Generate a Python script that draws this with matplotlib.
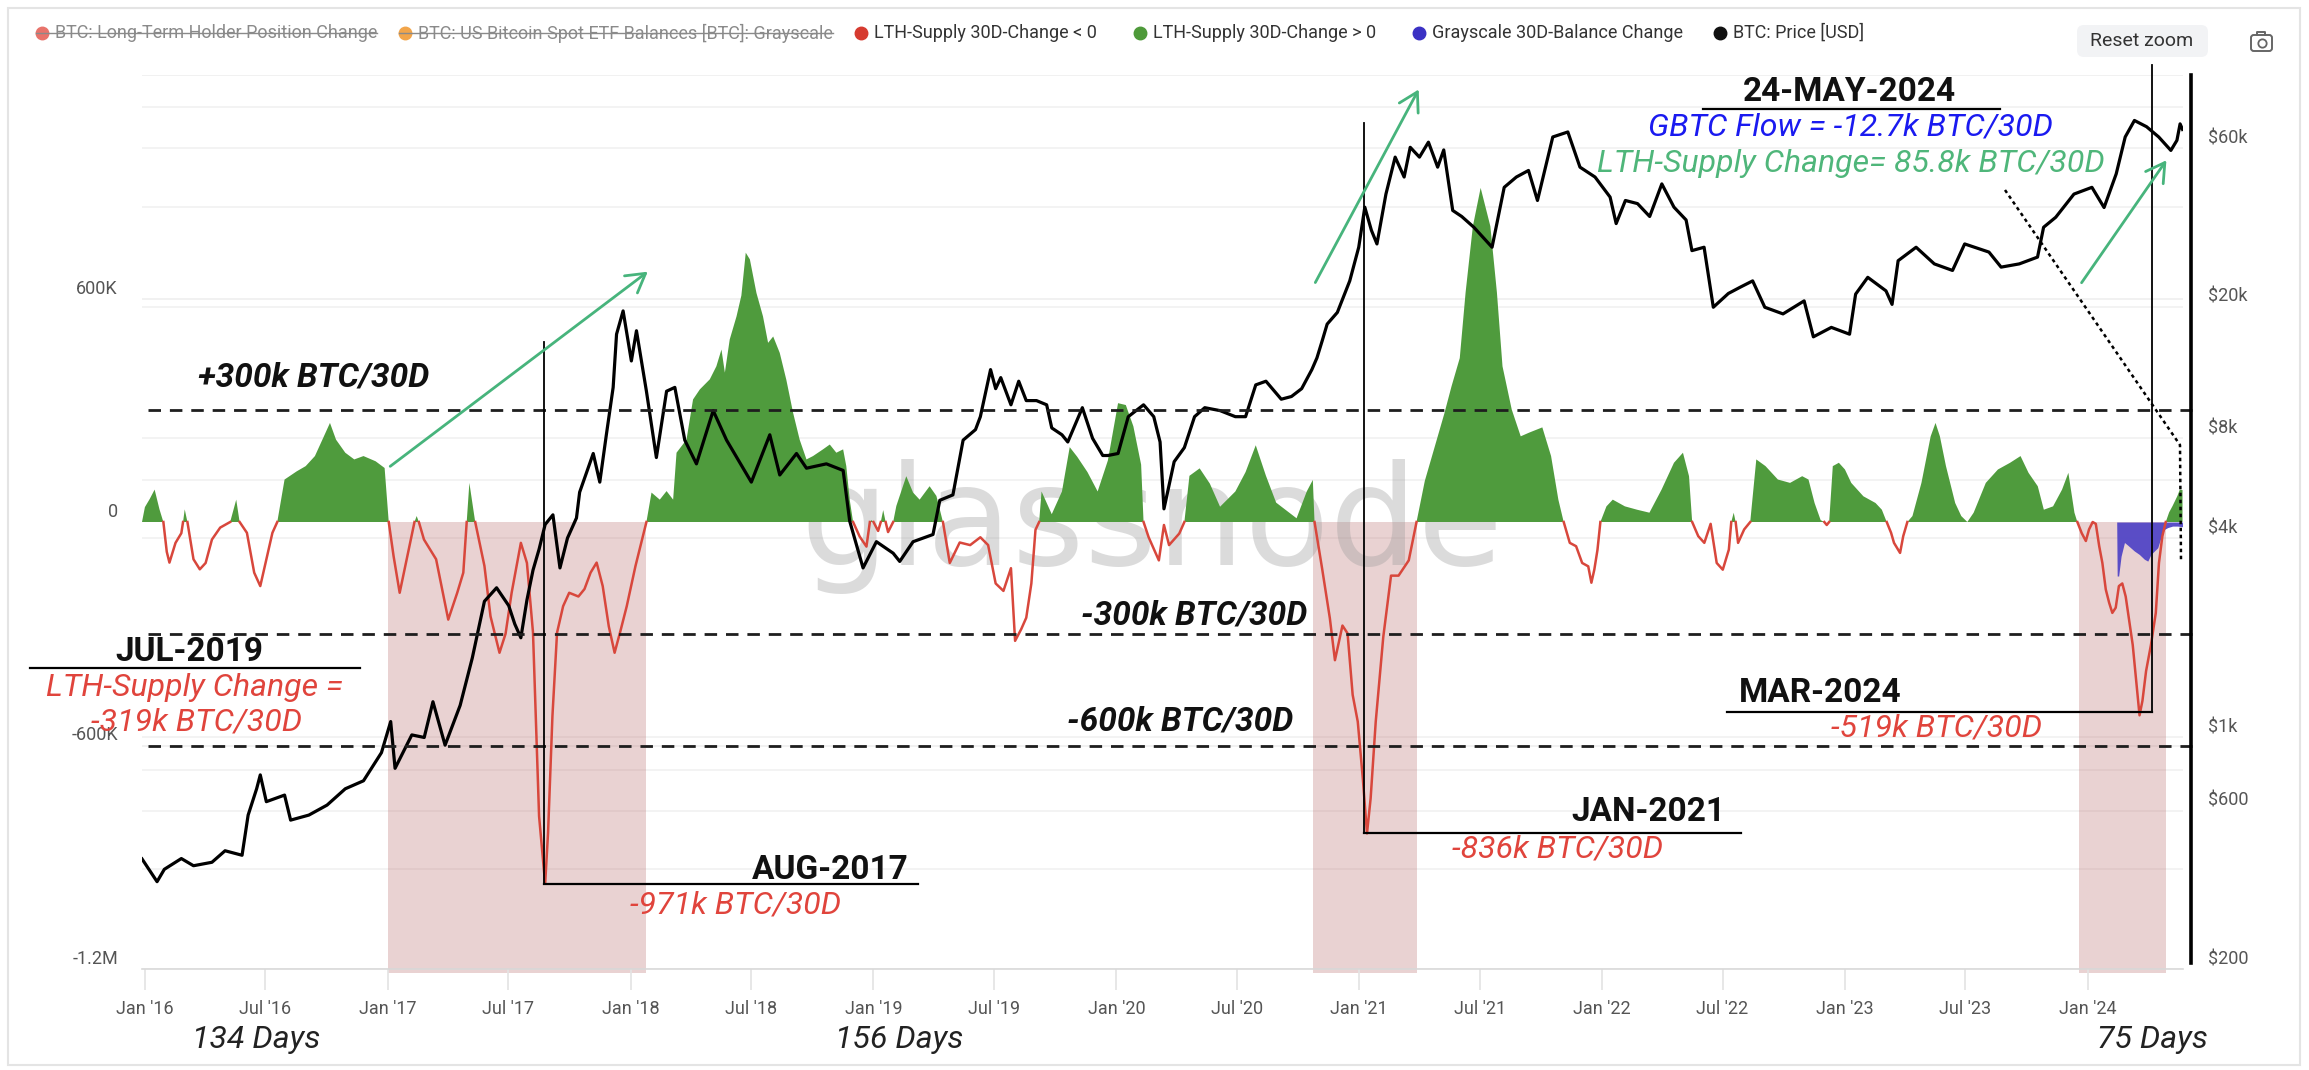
import numpy as np
import matplotlib
matplotlib.use("Agg")
import matplotlib.pyplot as plt
import matplotlib.transforms as mtransforms
from matplotlib.lines import Line2D
from matplotlib.patches import FancyBboxPatch, FancyArrowPatch, Rectangle

plt.rcParams['font.family'] = ['Roboto', 'DejaVu Sans']

# ---------------------------------------------------------------- data
# LTH supply 30-day change (thousand BTC), dates as decimal years
lth_dates = [
    2015.988, 2016.000, 2016.020, 2016.040, 2016.060, 2016.076, 2016.090, 2016.101, 2016.126, 2016.150,
    2016.157, 2016.164, 2016.175, 2016.200, 2016.226, 2016.250, 2016.276, 2016.310, 2016.351, 2016.376,
    2016.390, 2016.420, 2016.450, 2016.475, 2016.500, 2016.525, 2016.545, 2016.575, 2016.625, 2016.662,
    2016.700, 2016.737, 2016.762, 2016.787, 2016.825, 2016.862, 2016.900, 2016.950, 2016.987, 2017.004,
    2017.024, 2017.049, 2017.086, 2017.110, 2017.119, 2017.128, 2017.149, 2017.199, 2017.249, 2017.286,
    2017.311, 2017.325, 2017.336, 2017.360, 2017.398, 2017.423, 2017.460, 2017.485, 2017.510, 2017.548,
    2017.573, 2017.598, 2017.623, 2017.648, 2017.660, 2017.678, 2017.697, 2017.722, 2017.747, 2017.785,
    2017.810, 2017.835, 2017.860, 2017.885, 2017.910, 2017.934, 2017.959, 2017.984, 2018.020, 2018.047,
    2018.065, 2018.086, 2018.120, 2018.148, 2018.175, 2018.189, 2018.230, 2018.257, 2018.285, 2018.326,
    2018.353, 2018.374, 2018.388, 2018.408, 2018.436, 2018.456, 2018.474, 2018.491, 2018.518, 2018.545,
    2018.566, 2018.587, 2018.614, 2018.641, 2018.669, 2018.696, 2018.724, 2018.751, 2018.792, 2018.820,
    2018.847, 2018.875, 2018.888, 2018.902, 2018.916, 2018.943, 2018.971, 2018.985, 2018.992, 2019.000,
    2019.019, 2019.030, 2019.040, 2019.050, 2019.060, 2019.081, 2019.094, 2019.135, 2019.163, 2019.190,
    2019.231, 2019.259, 2019.286, 2019.314, 2019.355, 2019.398, 2019.440, 2019.472, 2019.503, 2019.535,
    2019.566, 2019.583, 2019.608, 2019.629, 2019.650, 2019.667, 2019.682, 2019.692, 2019.734, 2019.776,
    2019.808, 2019.839, 2019.881, 2019.923, 2019.965, 2020.007, 2020.039, 2020.070, 2020.102, 2020.112,
    2020.133, 2020.175, 2020.196, 2020.217, 2020.259, 2020.280, 2020.301, 2020.343, 2020.385, 2020.427,
    2020.490, 2020.532, 2020.574, 2020.616, 2020.658, 2020.700, 2020.742, 2020.784, 2020.809, 2020.816,
    2020.847, 2020.879, 2020.900, 2020.931, 2020.952, 2020.973, 2020.994, 2021.015, 2021.032, 2021.047,
    2021.068, 2021.099, 2021.131, 2021.162, 2021.204, 2021.236, 2021.270, 2021.310, 2021.350, 2021.380,
    2021.414, 2021.438, 2021.468, 2021.500, 2021.540, 2021.567, 2021.590, 2021.628, 2021.665, 2021.700,
    2021.754, 2021.790, 2021.820, 2021.842, 2021.867, 2021.893, 2021.918, 2021.943, 2021.956, 2021.968,
    2021.981, 2021.993, 2022.018, 2022.044, 2022.094, 2022.144, 2022.195, 2022.245, 2022.296, 2022.333,
    2022.358, 2022.371, 2022.396, 2022.421, 2022.447, 2022.472, 2022.497, 2022.522, 2022.532, 2022.542,
    2022.550, 2022.560, 2022.585, 2022.610, 2022.635, 2022.673, 2022.724, 2022.774, 2022.824, 2022.850,
    2022.875, 2022.900, 2022.915, 2022.925, 2022.935, 2022.950, 2022.975, 2023.000, 2023.026, 2023.076,
    2023.126, 2023.152, 2023.172, 2023.190, 2023.202, 2023.227, 2023.240, 2023.257, 2023.278, 2023.315,
    2023.353, 2023.373, 2023.391, 2023.416, 2023.454, 2023.479, 2023.504, 2023.530, 2023.580, 2023.630,
    2023.680, 2023.723, 2023.756, 2023.794, 2023.819, 2023.857, 2023.894, 2023.920, 2023.945, 2023.957,
    2023.975, 2023.992, 2024.005, 2024.020, 2024.033, 2024.047, 2024.060, 2024.074, 2024.088, 2024.101,
    2024.115, 2024.128, 2024.142, 2024.156, 2024.170, 2024.185, 2024.200, 2024.213, 2024.225, 2024.240,
    2024.260, 2024.280, 2024.293, 2024.307, 2024.321, 2024.335, 2024.349, 2024.369, 2024.379, 2024.390,
]
lth_change_k = [
    0, 40, 62, 87, 34, 0, -80, -109, -56, -30,
    0, 34, 0, -100, -127, -110, -47, -15, 0, 60,
    0, -29, -136, -172, -100, -29, 0, 114, 136, 150,
    177, 230, 266, 221, 186, 168, 177, 163, 145, 0,
    -92, -190, -74, 0, 16, 0, -47, -100, -262, -190,
    -136, 0, 105, 0, -118, -253, -351, -300, -190, -56,
    -110, -297, -790, -971, -834, -521, -297, -226, -190, -200,
    -180, -136, -109, -172, -280, -351, -290, -226, -118, -47,
    0, 79, 60, 83, 60, 186, 221, 329, 356, 383,
    418, 463, 401, 490, 552, 608, 723, 705, 615, 552,
    481, 498, 454, 382, 293, 221, 168, 177, 195, 208,
    186, 195, 150, 60, 0, -39, -66, 0, 5, 0,
    -24, 0, 32, 0, -27, 0, 43, 123, 79, 60,
    96, 70, 0, -110, -55, -62, -41, -62, -165, -185,
    -124, -319, -288, -257, -165, -21, 0, 82, 21, 82,
    201, 175, 134, 82, 165, 319, 314, 257, 154, 0,
    -41, -103, -8, -62, -31, 0, 124, 144, 103, 41,
    82, 134, 206, 124, 52, 31, 10, 82, 113, 0,
    -124, -258, -371, -278, -299, -464, -536, -690, -836, -742,
    -536, -309, -144, -144, -103, 0, 110, 200, 290, 364,
    440, 616, 794, 897, 794, 616, 418, 302, 230, 240,
    254, 177, 60, 0, -56, -65, -110, -119, -163, -128,
    -75, 0, 42, 60, 42, 33, 25, 87, 159, 186,
    123, 0, -38, -56, -5, -110, -128, -74, 0, 25,
    0, -56, -20, 0, 168, 150, 114, 105, 123, 114,
    51, 5, 0, -8, 0, 150, 159, 141, 105, 69,
    51, 33, 0, -29, -56, -83, -38, 0, 16, 105,
    230, 266, 230, 150, 51, 16, 0, 25, 105, 141,
    159, 177, 132, 96, 33, 42, 87, 132, 25, 0,
    -30, -51, -20, 0, -5, -65, -110, -181, -217, -244,
    -230, -172, -165, -200, -262, -330, -430, -519, -480, -400,
    -330, -244, -110, -38, 0, 26, 43, 70, 87, 85.8,
]

# Grayscale 30-day balance change (thousand BTC)
gbtc_dates = [2024.119, 2024.121, 2024.127, 2024.137, 2024.151, 2024.164, 2024.192, 2024.212, 2024.233,
              2024.247, 2024.260, 2024.288, 2024.301, 2024.315, 2024.329, 2024.349, 2024.369, 2024.390]
gbtc_change_k = [0, -145, -145, -92, -55, -62, -78, -87, -100, -105, -87, -69, -42, -20, -15, -11, -11, -12.7]

# BTC price (USD)
price_dates = [
    2015.988, 2016.050, 2016.080, 2016.150, 2016.200, 2016.276, 2016.330, 2016.400, 2016.425, 2016.460,
    2016.475, 2016.500, 2016.575, 2016.600, 2016.675, 2016.750, 2016.825, 2016.900, 2016.974, 2017.012,
    2017.030, 2017.099, 2017.150, 2017.186, 2017.236, 2017.298, 2017.348, 2017.398, 2017.448, 2017.498,
    2017.523, 2017.548, 2017.573, 2017.598, 2017.623, 2017.648, 2017.680, 2017.709, 2017.740, 2017.777,
    2017.790, 2017.846, 2017.873, 2017.900, 2017.928, 2017.942, 2017.969, 2018.003, 2018.024, 2018.065,
    2018.106, 2018.148, 2018.182, 2018.223, 2018.271, 2018.340, 2018.395, 2018.463, 2018.497, 2018.573,
    2018.614, 2018.683, 2018.724, 2018.806, 2018.875, 2018.902, 2018.957, 2019.012, 2019.081, 2019.108,
    2019.163, 2019.245, 2019.273, 2019.327, 2019.369, 2019.420, 2019.440, 2019.482, 2019.503, 2019.524,
    2019.566, 2019.598, 2019.629, 2019.671, 2019.713, 2019.734, 2019.776, 2019.800, 2019.860, 2019.902,
    2019.944, 2019.965, 2020.007, 2020.049, 2020.112, 2020.154, 2020.180, 2020.196, 2020.238, 2020.280,
    2020.322, 2020.364, 2020.427, 2020.490, 2020.532, 2020.574, 2020.616, 2020.679, 2020.721, 2020.763,
    2020.805, 2020.826, 2020.848, 2020.868, 2020.910, 2020.961, 2020.998, 2021.023, 2021.050, 2021.073,
    2021.110, 2021.148, 2021.185, 2021.210, 2021.248, 2021.285, 2021.323, 2021.348, 2021.385, 2021.422,
    2021.472, 2021.547, 2021.597, 2021.647, 2021.697, 2021.734, 2021.797, 2021.859, 2021.909, 2021.971,
    2022.033, 2022.058, 2022.096, 2022.146, 2022.196, 2022.246, 2022.296, 2022.346, 2022.370, 2022.420,
    2022.458, 2022.520, 2022.570, 2022.620, 2022.670, 2022.745, 2022.832, 2022.870, 2022.944, 2023.019,
    2023.044, 2023.094, 2023.169, 2023.194, 2023.219, 2023.293, 2023.368, 2023.443, 2023.493, 2023.593,
    2023.643, 2023.718, 2023.793, 2023.818, 2023.868, 2023.943, 2024.017, 2024.067, 2024.117, 2024.154,
    2024.192, 2024.242, 2024.292, 2024.342, 2024.367, 2024.380, 2024.390,
]
price_usd = [
    430, 367, 400, 431, 410, 420, 455, 441, 583, 700,
    771, 640, 670, 563, 583, 625, 700, 740, 900, 1117,
    807, 1018, 1000, 1282, 948, 1250, 1738, 2577, 2831, 2500,
    2200, 2000, 2600, 3200, 3700, 4395, 4700, 3250, 4000, 4600,
    5500, 7200, 5900, 8200, 11400, 16500, 19400, 13700, 16900, 11100,
    7000, 11100, 11400, 7900, 6700, 9700, 7900, 6500, 5900, 8200,
    6200, 7200, 6500, 6700, 6400, 4500, 3250, 3900, 3600, 3400,
    3900, 4100, 5200, 5400, 7900, 8500, 9300, 12900, 11300, 12200,
    10100, 11900, 10400, 10400, 10100, 8600, 8200, 7800, 9900, 8000,
    7100, 7100, 7200, 9300, 10100, 9300, 7800, 4900, 6800, 7500,
    9300, 9900, 9700, 9300, 9300, 11600, 11900, 10500, 10700, 11300,
    12900, 14000, 15800, 17700, 19200, 23900, 30200, 39900, 34000, 30900,
    43700, 56500, 49200, 60500, 56500, 62700, 52700, 59400, 39000, 37400,
    34700, 30200, 45800, 49200, 51500, 41800, 65000, 67300, 52700, 49200,
    42800, 35600, 41800, 40900, 37400, 46900, 39900, 36500, 29500, 30200,
    19900, 21900, 22900, 23900, 19900, 19000, 20800, 16200, 17300, 16500,
    21800, 24500, 22300, 20300, 27500, 30200, 26900, 25700, 30900, 29200,
    26300, 26900, 28200, 34700, 37200, 43700, 45800, 39800, 50300, 65000,
    72900, 69800, 65000, 59200, 63500, 71200, 68500,
]

# highlighted LTH sell-off windows
band_start = [2017.000, 2020.809, 2023.962]
band_end = [2018.065, 2021.237, 2024.320]

left_ticks = [-1200, -600, 0, 600]
left_labels = ['-1.2M', '-600K', '0', '600K']
left_grid = [-1200, -600, 600, 1200]
right_ticks = [200, 600, 1000, 4000, 8000, 20000, 60000]
right_labels = ['$200', '$600', '$1k', '$4k', '$8k', '$20k', '$60k']
right_grid = [400, 600, 800, 1000, 4000, 6000, 8000, 20000, 40000, 60000, 80000]

tick_years = list(range(2016, 2025))

threshold_levels = [300, -300, -600]
threshold_labels = ['+300k BTC/30D', '-300k BTC/30D', '-600k BTC/30D']

# ---------------------------------------------------------------- styles
GREEN = '#4f9b3d'
RED = '#d8473c'
BLUE = '#5246c6'
PINK = '#b86a6a'
TXT_RED = '#e0443c'
TXT_GREEN = '#4fb67a'
TXT_BLUE = '#1a1af0'
ARROW_GREEN = '#47b47c'
BOLD_FS = 24
ITAL_FS = 23

W, H = 2309, 1070
fig = plt.figure(figsize=(W / 100, H / 100), dpi=100)
fig.patch.set_facecolor('white')
pxT = mtransforms.Affine2D().scale(1 / W, -1 / H).translate(0, 1) + fig.transFigure

L, R, T, B = 142, 2183, 75, 969
ax = fig.add_axes([L / W, 1 - B / H, (R - L) / W, (B - T) / H])
ax.set_xlim(2015.988, 2024.392)
ax.set_ylim(-1200, 1200)
ax.set_facecolor('none')
for s in ['top', 'left', 'right']:
    ax.spines[s].set_visible(False)
ax.spines['bottom'].set_color('#d9d9d9')
ax.spines['bottom'].set_linewidth(1.2)

ax2 = ax.twinx()
ax2.set_yscale('log')
ax2.set_ylim(200, 100000)
for s in ax2.spines.values():
    s.set_visible(False)
ax2.yaxis.set_major_locator(matplotlib.ticker.NullLocator())
ax2.yaxis.set_minor_locator(matplotlib.ticker.NullLocator())
ax.tick_params(axis='y', left=False, labelleft=False)
ax2.tick_params(axis='y', right=False, labelright=False, which='both')

# grid (all drawn underneath the data)
for g in left_grid:
    ax.axhline(g, color='#efefef', lw=1.2, zorder=0)
priceGridT = mtransforms.blended_transform_factory(ax.transAxes, ax2.transData)
for g in right_grid:
    ax.add_line(Line2D([0, 1], [g, g], transform=priceGridT, color='#f1f1f1', lw=1.2, zorder=0))

# x ticks
xt, xl = [], []
for y in tick_years:
    xt.append(y + 0.0)
    xl.append("Jan '%02d" % (y % 100))
    if y < 2024:
        xt.append(y + 0.496)
        xl.append("Jul '%02d" % (y % 100))
ax.set_xticks(xt)
ax.set_xticklabels(xl)
ax.tick_params(axis='x', length=15, color='#e3e3e3', width=1.2, pad=7, labelsize=13, labelcolor='#555555')

# y labels (placed slightly above their grid lines, like the source)
off = mtransforms.ScaledTranslation(0, 0.10, fig.dpi_scale_trans)
for v, s in zip(left_ticks, left_labels):
    ax.text(-0.0118, v, s, transform=ax.get_yaxis_transform() + off, ha='right', va='center',
            fontsize=13, color='#555555')
for v, s in zip(right_ticks, right_labels):
    ax2.text(1.0122, v, s, transform=ax2.get_yaxis_transform() + off, ha='left', va='center',
             fontsize=13, color='#555555')

# highlight bands
for a, b in zip(band_start, band_end):
    ax.fill_between([a, b], -1212, 0, color=PINK, alpha=0.30, lw=0, zorder=0.5, clip_on=False)

# watermark
ax.text(1152, 565, 'glassnode', transform=pxT, ha='center', va='baseline', fontsize=100,
        color='#9a9a9a', alpha=0.35, zorder=0.8, family=['DejaVu Sans'])

# LTH series
d = np.array(lth_dates)
v = np.array(lth_change_k, dtype=float)
ax.fill_between(d, 0, v, where=v >= 0, interpolate=True, color=GREEN, lw=0, zorder=2)
ax.plot(d, np.where(v <= 0, v, np.nan), color=RED, lw=1.8, zorder=3, solid_joinstyle='round')

# Grayscale
ax.fill_between(np.array(gbtc_dates), 0, np.array(gbtc_change_k), color=BLUE, lw=0, zorder=2.5, alpha=0.95)

# price
ax2.plot(price_dates, price_usd, color='black', lw=2.3, zorder=4, solid_joinstyle='round')

# ---------------------------------------------------------------- annotations (figure level)
def fline(xs, ys, tr, **kw):
    fig.add_artist(Line2D(xs, ys, transform=tr, **kw))

def ftext(x, y, s, **kw):
    fig.text(x, y, s, transform=pxT, ha='center', va='center', zorder=6, **kw)

mixT = mtransforms.blended_transform_factory(pxT, ax.transData)

# threshold dashed lines
for lvl in threshold_levels:
    fline([148, 2192], [lvl, lvl], mixT, color='#1e1e1e', lw=2.0, dashes=(4.5, 3.2), zorder=5)

ftext(314, 378, threshold_labels[0], fontsize=BOLD_FS, fontweight='bold', style='italic', color='#111')
ftext(1194, 615, threshold_labels[1], fontsize=BOLD_FS, fontweight='bold', style='italic', color='#111')
ftext(1180, 722, threshold_labels[2], fontsize=BOLD_FS, fontweight='bold', style='italic', color='#111')

# event markers (vertical + horizontal lines anchored at the minima)
datT = ax.transData
fline([2017.643, 2017.643], [-971, 484], datT, color='black', lw=1.3, zorder=5)
fline([2017.643, 2019.182], [-971, -971], datT, color='black', lw=1.6, zorder=5)
ftext(830, 870, 'AUG-2017', fontsize=BOLD_FS, fontweight='bold', color='#111')
ftext(736, 905, '-971k BTC/30D', fontsize=ITAL_FS, style='italic', color=TXT_RED)

fline([2021.018, 2021.018], [-836, 1072], datT, color='black', lw=1.3, zorder=5)
fline([2021.018, 2022.571], [-836, -836], datT, color='black', lw=1.6, zorder=5)
ftext(1648, 812, 'JAN-2021', fontsize=BOLD_FS, fontweight='bold', color='#111')
ftext(1558, 849, '-836k BTC/30D', fontsize=ITAL_FS, style='italic', color=TXT_RED)

fline([2024.265, 2024.265], [-510, 1228], datT, color='black', lw=1.3, zorder=5)
fline([2022.513, 2024.265], [-510, -510], datT, color='black', lw=1.6, zorder=5)
ftext(1820, 693, 'MAR-2024', fontsize=BOLD_FS, fontweight='bold', color='#111')
ftext(1937, 728, '-519k BTC/30D', fontsize=ITAL_FS, style='italic', color=TXT_RED)

# JUL-2019 note
ftext(189, 652, 'JUL-2019', fontsize=BOLD_FS, fontweight='bold', color='#111')
fline([30, 360], [668, 668], pxT, color='black', lw=1.6, zorder=5)
ftext(194, 687, 'LTH-Supply Change =', fontsize=ITAL_FS, style='italic', color=TXT_RED)
ftext(197, 722, '-319k BTC/30D', fontsize=ITAL_FS, style='italic', color=TXT_RED)

# 24-MAY-2024 note
ftext(1849, 92, '24-MAY-2024', fontsize=BOLD_FS, fontweight='bold', color='#111')
fline([1703, 2000], [109, 109], pxT, color='black', lw=1.6, zorder=5)
ftext(1851, 127, 'GBTC Flow = -12.7k BTC/30D', fontsize=ITAL_FS, style='italic', color=TXT_BLUE)
ftext(1851, 164, 'LTH-Supply Change= 85.8k BTC/30D', fontsize=ITAL_FS, style='italic', color=TXT_GREEN)

# dotted pointer and right bar
fline([2005, 2180, 2181], [190, 445, 560], pxT, color='black', lw=1.8, dashes=(1.4, 1.4), zorder=5)
fline([2191, 2191], [75, 963], pxT, color='black', lw=2.6, zorder=5)

# green arrows
for (x0, y0), (x1, y1) in [((388, 468), (650, 270)), ((1314, 285), (1420, 87)), ((2080, 285), (2168, 158))]:
    arr = FancyArrowPatch((x0, y0), (x1, y1), transform=pxT, arrowstyle='->,head_length=0.6,head_width=0.35',
                          mutation_scale=22, color=ARROW_GREEN, lw=2.0, zorder=5)
    fig.add_artist(arr)

# bottom "days" notes
for x, s in [(256, '134 Days'), (899, '156 Days'), (2152, '75 Days')]:
    ftext(x, 1040, s, fontsize=ITAL_FS, style='italic', color='#222')

# ---------------------------------------------------------------- legend
legend_items = [
    ('BTC: Long-Term Holder Position Change', '#e8736b', True),
    ('BTC: US Bitcoin Spot ETF Balances [BTC]: Grayscale', '#f2a54a', True),
    ('LTH-Supply 30D-Change < 0', '#d63a2f', False),
    ('LTH-Supply 30D-Change > 0', '#4e9a3a', False),
    ('Grayscale 30D-Balance Change', '#3b31c4', False),
    ('BTC: Price [USD]', '#111111', False),
]
legend_x = [42, 405, 861, 1140, 1419, 1720]
leg_texts = []
for (lab, col, hidden), x in zip(legend_items, legend_x):
    fig.add_artist(Line2D([x], [33], transform=pxT, marker='o', ms=9, color=col, lw=0, zorder=6))
    t = fig.text(x + 13, 33, lab, transform=pxT, ha='left', va='center', fontsize=13,
                 color='#8a8a8a' if hidden else '#333333', zorder=6)
    leg_texts.append((t, x, hidden))

# Reset zoom button and camera icon
btn = FancyBboxPatch((2077 / W, 1 - 57 / H), 131 / W, 32 / H, transform=fig.transFigure,
                     boxstyle='round,pad=0,rounding_size=0.003', mutation_aspect=W / H,
                     facecolor='#f2f3f5', edgecolor='none', zorder=5)
fig.add_artist(btn)
ftext(2142, 41, 'Reset zoom', fontsize=14, color='#333')
cam = FancyBboxPatch((2251 / W, 1 - 51 / H), 21 / W, 16 / H, transform=fig.transFigure,
                     boxstyle='round,pad=0,rounding_size=0.0012', mutation_aspect=W / H,
                     facecolor='none', edgecolor='#666', lw=1.4, zorder=5)
fig.add_artist(cam)
fline([2257, 2257, 2265, 2265], [35, 32, 32, 35], pxT, color='#666', lw=1.4, zorder=5)
fig.add_artist(Line2D([2261.5], [43], transform=pxT, marker='o', ms=6, mfc='none', mec='#666', mew=1.3, zorder=6))

# outer frame
fig.add_artist(Rectangle((8 / W, 5 / H), 2292 / W, 1057 / H, transform=fig.transFigure,
                         facecolor='none', edgecolor='#e4e4e4', lw=1.5, zorder=0))

# strike-through for hidden legend entries
fig.canvas.draw()
rend = fig.canvas.get_renderer()
for t, x, hidden in leg_texts:
    if hidden:
        bb = t.get_window_extent(rend)
        ym = (bb.y0 + bb.y1) / 2
        fig.add_artist(Line2D([x - 6, bb.x1], [ym, ym], transform=mtransforms.IdentityTransform(),
                              color='#8a8a8a', lw=1.0, zorder=7))

fig.savefig('out.png', dpi=100)
